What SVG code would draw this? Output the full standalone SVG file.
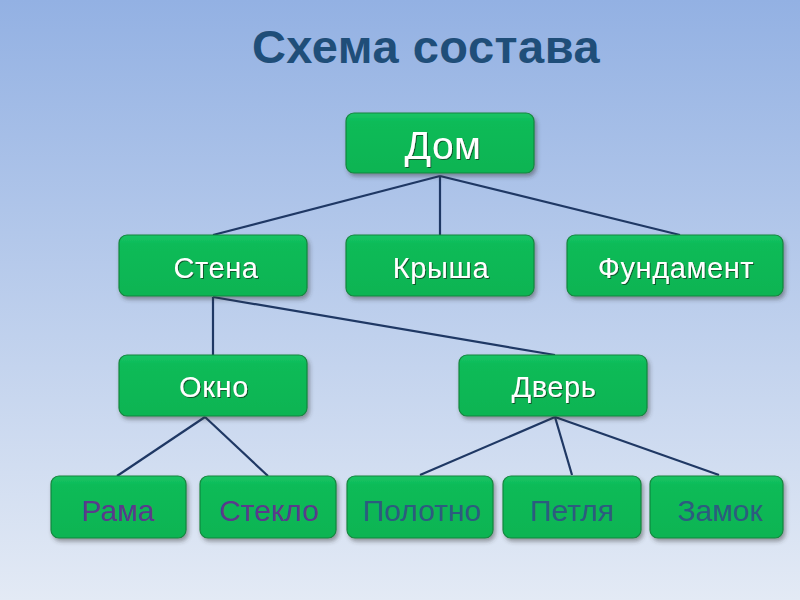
<svg xmlns="http://www.w3.org/2000/svg" width="800" height="600" viewBox="0 0 800 600">
<defs>
<linearGradient id="bg" x1="0" y1="0" x2="0" y2="1">
<stop offset="0" stop-color="#93b1e3"/>
<stop offset="1" stop-color="#e3eaf5"/>
</linearGradient>
<linearGradient id="g" x1="0" y1="0" x2="0" y2="1">
<stop offset="0" stop-color="#19c566"/>
<stop offset="0.15" stop-color="#0cbb58"/>
<stop offset="1" stop-color="#0ab452"/>
</linearGradient>
<filter id="sh" x="-10%" y="-10%" width="130%" height="140%">
<feDropShadow dx="2" dy="3" stdDeviation="2" flood-color="#333" flood-opacity="0.45"/>
</filter>
<filter id="ts" x="-10%" y="-10%" width="120%" height="130%">
<feDropShadow dx="1" dy="1" stdDeviation="0.6" flood-color="#0a4020" flood-opacity="0.8"/>
</filter>
</defs>
<style>
.box{fill:url(#g);stroke:#16863f;stroke-width:1.2;filter:url(#sh)}
.t{font-family:"Liberation Sans",Arial,sans-serif;text-anchor:middle;font-size:29px;letter-spacing:0.6px}
.big{font-size:39px;letter-spacing:0.5px}
.sm{font-size:30px;letter-spacing:0}
.w{fill:#ffffff;filter:url(#ts)}
.p{fill:#5a3a8c}
.b{fill:#2d5b7f}
.c{stroke:#1f3864;stroke-width:2.2;fill:none}
</style>
<rect width="800" height="600" fill="url(#bg)"/>
<text x="426" y="63" font-family="Liberation Sans,Arial,sans-serif" font-weight="bold" font-size="47" fill="#1f4e79" text-anchor="middle" letter-spacing="0.5">Схема состава</text>
<g id="connectors">
<line class="c" x1="440" y1="176" x2="213" y2="235"/>
<line class="c" x1="440" y1="176" x2="440" y2="235"/>
<line class="c" x1="440" y1="176" x2="680" y2="235"/>
<line class="c" x1="213" y1="297" x2="213" y2="355"/>
<line class="c" x1="213" y1="297" x2="555" y2="355"/>
<line class="c" x1="205" y1="417" x2="117" y2="476"/>
<line class="c" x1="205" y1="417" x2="268" y2="476"/>
<line class="c" x1="555" y1="417" x2="420" y2="475"/>
<line class="c" x1="555" y1="417" x2="572" y2="475"/>
<line class="c" x1="555" y1="417" x2="719" y2="475"/>
</g>
<g id="dom"><rect class="box" x="346" y="113" width="188" height="60" rx="8"/><text class="t big w" x="443" y="159">Дом</text></g>
<g id="stena"><rect class="box" x="119" y="235" width="188" height="61" rx="8"/><text class="t w" x="216" y="278">Стена</text></g>
<g id="krysha"><rect class="box" x="346" y="235" width="188" height="61" rx="8"/><text class="t w" x="441" y="278">Крыша</text></g>
<g id="fundament"><rect class="box" x="567" y="235" width="216" height="61" rx="8"/><text class="t w" x="676" y="278">Фундамент</text></g>
<g id="okno"><rect class="box" x="119" y="355" width="188" height="61" rx="8"/><text class="t w" x="214" y="397">Окно</text></g>
<g id="dver"><rect class="box" x="459" y="355" width="188" height="61" rx="8"/><text class="t w" x="554" y="397">Дверь</text></g>
<g id="rama"><rect class="box" x="51" y="476" width="135" height="62" rx="8"/><text class="t sm p" x="118" y="521">Рама</text></g>
<g id="steklo"><rect class="box" x="200" y="476" width="136" height="62" rx="8"/><text class="t sm p" x="269" y="521">Стекло</text></g>
<g id="polotno"><rect class="box" x="347" y="476" width="146" height="62" rx="8"/><text class="t sm b" x="422" y="521">Полотно</text></g>
<g id="petlya"><rect class="box" x="503" y="476" width="138" height="62" rx="8"/><text class="t sm b" x="572" y="521">Петля</text></g>
<g id="zamok"><rect class="box" x="650" y="476" width="133" height="62" rx="8"/><text class="t sm b" x="720" y="521">Замок</text></g>
</svg>
